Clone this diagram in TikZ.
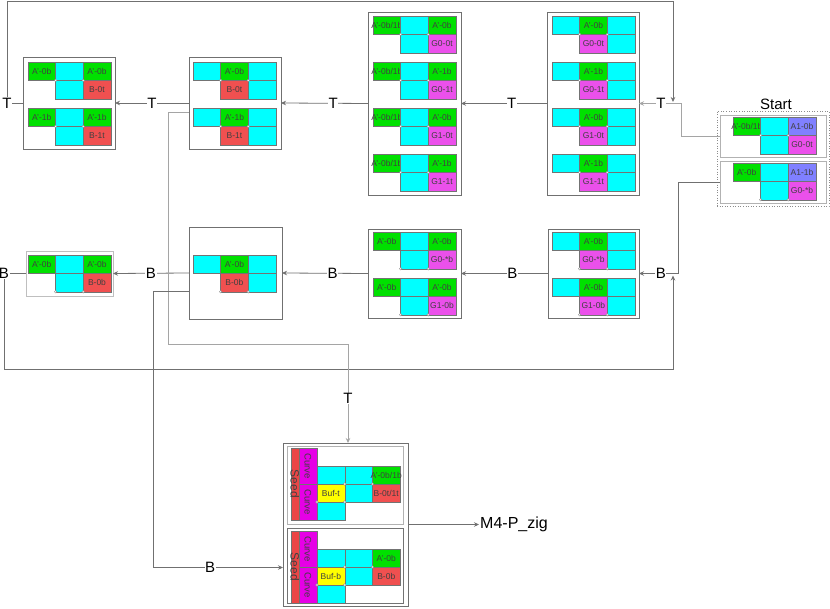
\documentclass[tikz,border=0pt]{standalone}
\usepackage{fontspec}
\setmainfont{Liberation Sans}
\usetikzlibrary{arrows.meta,calc}
\definecolor{cgreen}{RGB}{0,224,0}
\definecolor{ccyan}{RGB}{0,255,255}
\definecolor{cred}{RGB}{240,80,80}
\definecolor{cmag}{RGB}{235,80,235}
\definecolor{cpurp}{RGB}{128,128,255}
\definecolor{cyell}{RGB}{255,255,0}
\definecolor{cseed}{RGB}{235,70,70}
\definecolor{ccurve}{RGB}{230,0,230}
\definecolor{lnc}{RGB}{112,112,112}
\definecolor{lnl}{RGB}{165,165,165}
\tikzset{
 cell/.style={draw=black!55, line width=0.4pt, minimum width=27.6pt, minimum height=18.4pt,
   inner sep=0pt, outer sep=0pt, anchor=north west, font=\fontsize{8.5}{9}\selectfont, text=black!75},
 cellf/.style={cell, minimum width=27.7pt, minimum height=18pt},
 grp/.style={draw=lnc, line width=0.9pt, anchor=north west, inner sep=0pt, outer sep=0pt},
 grpl/.style={grp, draw=black!25, line width=0.6pt},
 conn/.style={draw=lnc, line width=0.8pt},
 connl/.style={draw=lnl, line width=0.8pt},
 arr/.style={-{Stealth[length=5pt,width=4.5pt]}},
 lab/.style={fill=white, inner sep=0.5pt, font=\fontsize{15}{16}\selectfont},
 dotc/.style={draw=black!50, fill=white, line width=0.3pt}
}
\newcommand\ct[1]{\makebox[0pt]{#1}}
\newcommand\blkA[8]{%
 \node[cell,fill=cgreen] (#1a) at (#2,#3) {\ct{#4}};
 \node[cell,fill=ccyan] (#1b) at (#1a.north east) {};
 \node[cell,fill=#5] (#1c) at (#1b.north east) {\ct{#6}};
 \node[cell,fill=ccyan] (#1d) at (#1b.south west) {};
 \node[cell,fill=#7] (#1e) at (#1d.north east) {\ct{#8}};}
\newcommand\blkC[6]{%
 \node[cell,fill=ccyan] (#1a) at (#2,#3) {};
 \node[cell,fill=cgreen] (#1b) at (#1a.north east) {\ct{#4}};
 \node[cell,fill=ccyan] (#1c) at (#1b.north east) {};
 \node[cell,fill=#5] (#1d) at (#1b.south west) {\ct{#6}};
 \node[cell,fill=ccyan] (#1e) at (#1d.north east) {};}
\newcommand\dotsT[1]{\draw[dotc] (#1d.north west) circle (1.3pt) (#1e.north west) circle (1.3pt);}
\newcommand\dotsB[1]{\draw[dotc] (#1d.south west) circle (1.3pt) (#1e.south west) circle (1.3pt);}
\newcommand\blkF[6]{%
 \node[cellf,fill=cseed,minimum width=8pt,minimum height=72pt,font=\fontsize{12}{13}\selectfont] (#1s) at (#2,#3) {\ct{\rotatebox{-90}{Seed}}};
 \node[cellf,fill=ccurve,minimum width=18pt,minimum height=36pt,font=\fontsize{9.5}{10}\selectfont] (#1u) at (#1s.north east) {\ct{\rotatebox{-90}{Curve}}};
 \node[cellf,fill=ccurve,minimum width=18pt,minimum height=36pt,font=\fontsize{9.5}{10}\selectfont] (#1v) at (#1u.south west) {\ct{\rotatebox{-90}{Curve}}};
 \node[cellf,fill=ccyan] (#1a) at ($(#1u.north east)+(0,18)$) {};
 \node[cellf,fill=ccyan] (#1b) at (#1a.north east) {};
 \node[cellf,fill=cgreen] (#1c) at (#1b.north east) {\ct{#4}};
 \node[cellf,fill=cyell] (#1d) at (#1a.south west) {\ct{#5}};
 \node[cellf,fill=ccyan] (#1e) at (#1d.north east) {};
 \node[cellf,fill=cred] (#1f) at (#1e.north east) {\ct{#6}};
 \node[cellf,fill=ccyan] (#1g) at (#1d.south west) {};
 \draw[dotc] (#1e.north west) circle (1.3pt) (#1f.north west) circle (1.3pt)
   (#1g.north west) circle (1.3pt) (#1g.north east) circle (1.3pt);}
\begin{document}
\begin{tikzpicture}[x=1pt,y=-1pt]
\useasboundingbox (0,0) rectangle (830,609);
% group boxes
\node[grp,minimum width=92pt,minimum height=92pt] (b1) at (23,57) {};
\node[grp,minimum width=92pt,minimum height=92pt] (b2) at (189,57) {};
\node[grp,minimum width=93pt,minimum height=183pt] (b3) at (368,12) {};
\node[grp,minimum width=92pt,minimum height=183pt] (b4) at (547,12) {};
\node[grpl,minimum width=87pt,minimum height=45pt] (b5) at (26,251) {};
\node[grp,minimum width=93pt,minimum height=92pt] (b6) at (189,227) {};
\node[grp,minimum width=93pt,minimum height=89pt] (b7) at (368,229) {};
\node[grp,minimum width=91pt,minimum height=89pt] (b8) at (548,229) {};
\node[grp,draw=black!45,line width=0.6pt,dotted,minimum width=112pt,minimum height=95pt] (st) at (717,111) {};
\node[grpl,draw=black!30,minimum width=106pt,minimum height=42pt] (s1) at (720,115) {};
\node[grpl,draw=black!30,minimum width=106pt,minimum height=42pt] (s2) at (720,161) {};
\node[font=\fontsize{15}{16}\selectfont,inner sep=0pt,anchor=south] (stl) at (776,110) {Start};
\node[grp,minimum width=125pt,minimum height=163pt] (f) at (283,443) {};
\node[grpl,draw=black!30,minimum width=116pt,minimum height=78pt] (f1) at (287,446) {};
\node[grp,draw=black!55,line width=0.7pt,minimum width=116pt,minimum height=75pt] (f2) at (287,528) {};
% blocks
\blkA{pa}{28}{62}{A'-0b}{cgreen}{A'-0b}{cred}{B-0t}\dotsT{pa}
\blkA{pb}{28}{108}{A'-1b}{cgreen}{A'-1b}{cred}{B-1t}\dotsT{pb}
\blkC{qa}{193}{62}{A'-0b}{cred}{B-0t}\dotsT{qa}
\blkC{qb}{193}{108}{A'-1b}{cred}{B-1t}\dotsT{qb}
\blkA{ra}{373}{16}{A'-0b/1b}{cgreen}{A'-0b}{cmag}{G0-0t}\dotsT{ra}
\blkA{rb}{373}{62}{A'-0b/1b}{cgreen}{A'-1b}{cmag}{G0-1t}\dotsT{rb}
\blkA{rc}{373}{108}{A'-0b/1b}{cgreen}{A'-0b}{cmag}{G1-0t}\dotsT{rc}
\blkA{rd}{373}{154}{A'-0b/1b}{cgreen}{A'-1b}{cmag}{G1-1t}\dotsT{rd}
\blkC{ua}{552}{16}{A'-0b}{cmag}{G0-0t}\dotsT{ua}
\blkC{ub}{552}{62}{A'-1b}{cmag}{G0-1t}\dotsT{ub}
\blkC{uc}{552}{108}{A'-0b}{cmag}{G1-0t}\dotsT{uc}
\blkC{ud}{552}{154}{A'-1b}{cmag}{G1-1t}\dotsT{ud}
\blkA{va}{733}{117}{A'-0b/1b}{cpurp}{A1-0b}{cmag}{G0-0t}\dotsT{va}
\blkA{vb}{733}{163}{A'-0b}{cpurp}{A1-1b}{cmag}{G0-*b}\dotsB{vb}
\blkA{wa}{28}{255}{A'-0b}{cgreen}{A'-0b}{cred}{B-0b}\dotsB{wa}
\blkC{xa}{193}{255}{A'-0b}{cred}{B-0b}\dotsB{xa}
\blkA{ya}{373}{232}{A'-0b}{cgreen}{A'-0b}{cmag}{G0-*b}\dotsB{ya}
\blkA{yb}{373}{278}{A'-0b}{cgreen}{A'-0b}{cmag}{G1-0b}\dotsB{yb}
\blkC{za}{552}{232}{A'-0b}{cmag}{G0-*b}\dotsB{za}
\blkC{zb}{552}{278}{A'-0b}{cmag}{G1-0b}\dotsB{zb}
\blkF{fa}{291}{448}{A'-0b/1b}{Buf-t}{B-0t/1t}
\blkF{fb}{291}{531}{A'-0b}{Buf-b}{B-0b}
% top chain
\draw[conn,arr] (b2.west) -- node[lab]{T} (b1.east);
\draw[conn,arr] (b3.west) -- node[lab,pos=0.4]{T} (b2.east);
\draw[conn,arr] (b4.west) -- node[lab,pos=0.41]{T} (b3.east);
\draw[connl,arr] (s1.west) -- ++(-39,0) |- node[lab,pos=0.74]{T} (b4.east);
% top loop
\coordinate (tc) at (7,103);
\coordinate (tt) at (673,1);
\coordinate (tj) at (673,102);
\draw[conn,arr] (b1.west) -- (tc) |- (tt) -- (tj);
\node[lab] (tl) at (tc) {T};
% bottom chain
\draw[conn,arr] (b6.west) -- node[lab]{B} (b5.east);
\draw[conn,arr] (b7.west) -- node[lab,pos=0.41]{B} (b6.east);
\draw[conn,arr] (b8.west) -- node[lab,pos=0.41]{B} (b7.east);
\draw[conn,arr] (s2.west) -- ++(-42,0) |- node[lab,pos=0.72]{B} (b8.east);
% bottom loop
\coordinate (bc) at (4,273.5);
\coordinate (bb) at (673,369);
\coordinate (bj) at (673,275.5);
\draw[conn,arr] (b5.west) -- (bc) |- (bb) -- (bj);
\node[lab] (bl) at (bc) {B};
% to final
\draw[connl,arr] ([yshift=-9pt]b2.west) -- ++(-21,0) |- ($(f.north)+(2.5,-99)$) -- node[lab,pos=0.55]{T} ([xshift=2.5pt]f.north);
\draw[conn,arr] ([yshift=-18pt]b6.west) -- ++(-36,0) |- node[lab,pos=0.72]{B} ([yshift=-43pt]f.west);
\node[font=\fontsize{16}{17}\selectfont,inner sep=1pt,anchor=west] (outn) at (479,524.5) {M4-P\_zig};
\draw[conn,arr] (f.east) -- (outn.west);
\end{tikzpicture}
\end{document}
